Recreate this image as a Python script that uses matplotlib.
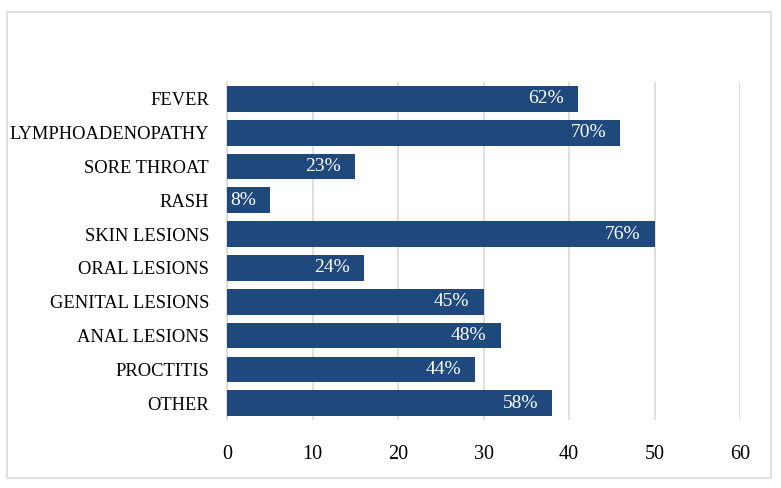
import matplotlib.pyplot as plt
from matplotlib.patches import Rectangle

symptoms = ['FEVER', 'LYMPHOADENOPATHY', 'SORE THROAT', 'RASH', 'SKIN LESIONS',
            'ORAL LESIONS', 'GENITAL LESIONS', 'ANAL LESIONS', 'PROCTITIS', 'OTHER']
counts = [41, 46, 15, 5, 50, 16, 30, 32, 29, 38]
pct_labels = ['62%', '70%', '23%', '8%', '76%', '24%', '45%', '48%', '44%', '58%']
x_ticks = [0, 10, 20, 30, 40, 50, 60]

plt.rcParams['font.family'] = ['Liberation Serif', 'DejaVu Serif']

fig = plt.figure(figsize=(7.81, 4.88), dpi=100)
ax = fig.add_axes([0.2907, 0.139, 0.657, 0.693])

ypos = list(range(len(symptoms)))
ax.barh(ypos, counts, height=0.76, color='#1f497d', zorder=3)

for y, c, lab in zip(ypos, counts, pct_labels):
    ax.annotate(lab, xy=(c, y), xytext=(-14, 0), textcoords='offset pixels',
                ha='right', va='center', color='white', fontsize=14, zorder=4)

ax.set_yticks(ypos)
ax.set_yticklabels(symptoms, fontsize=13.3)
ax.set_ylim(len(symptoms) - 0.5, -0.5)
ax.set_xlim(0, 60)
ax.set_xticks(x_ticks)
ax.tick_params(axis='x', labelsize=14.5, length=0, pad=18)
ax.tick_params(axis='y', length=0, pad=13)
ax.grid(axis='x', color='#d9d9d9', linewidth=1.2, zorder=0)

for s in ['top', 'right', 'bottom']:
    ax.spines[s].set_visible(False)
ax.spines['left'].set_color('#d9d9d9')
ax.spines['left'].set_linewidth(1.2)

fig.patches.append(Rectangle((7 / 781, 1 - 478 / 488), 764 / 781, 466 / 488,
                             transform=fig.transFigure, fill=False,
                             edgecolor='#d9d9d9', linewidth=1.2))

fig.savefig('out.png', dpi=100)
